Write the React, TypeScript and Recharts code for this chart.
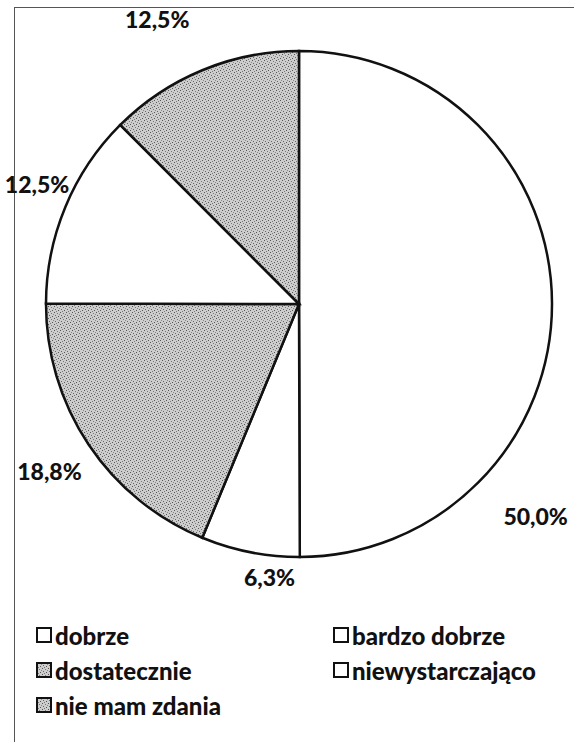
import React from "react"
import { PieChart, Pie, Cell } from "recharts"

const categories = ["dobrze", "bardzo dobrze", "dostatecznie", "niewystarczająco", "nie mam zdania"]
const values = [50.0, 6.3, 18.8, 12.5, 12.5]
const labels = ["50,0%", "6,3%", "18,8%", "12,5%", "12,5%"]
const shaded = [false, false, true, false, true]

const data = categories.map((name, i) => ({ name, value: values[i], label: labels[i], shaded: shaded[i] }))

const FONT = "Lato, 'Open Sans', sans-serif"
const RAD = Math.PI / 180

// label angle nudges / radii (Excel "best fit" placement)
const labelNudge: Record<number, { da: number; r: number }> = {
  0: { da: -42, r: 318 },
  1: { da: 5, r: 275 },
  2: { da: 0, r: 300 },
  3: { da: -2, r: 288 },
  4: { da: 4, r: 318 },
}

function renderLabel(props: any) {
  const { cx, cy, midAngle, index } = props
  const n = labelNudge[index] || { da: 0, r: 300 }
  const a = (midAngle + n.da) * RAD
  const x = cx + n.r * Math.cos(a)
  const y = cy - n.r * Math.sin(a)
  return (
    <text
      x={x}
      y={y}
      textAnchor="middle"
      dominantBaseline="central"
      fontFamily={FONT}
      fontWeight={900}
      fontSize={23}
      fill="#111"
    >
      {data[index].label}
    </text>
  )
}

function LegendBlock() {
  return (
    <div
      style={{
        position: "absolute",
        left: 36,
        top: 621,
        display: "grid",
        gridTemplateColumns: "297px 240px",
        rowGap: 7,
        fontFamily: FONT,
        fontWeight: 900,
        fontSize: 24,
        color: "#111",
      }}
    >
      {data.map((d) => (
        <div key={d.name} style={{ display: "flex", alignItems: "center", height: 28 }}>
          <svg width={17} height={17} style={{ marginRight: 2 }}>
            <rect
              x={1}
              y={1}
              width={14}
              height={14}
              fill={d.shaded ? "url(#stipple)" : "#fff"}
              stroke="#111"
              strokeWidth={2}
            />
          </svg>
          <span>{d.name}</span>
        </div>
      ))}
    </div>
  )
}

export default function App() {
  return (
    <div style={{ position: "absolute", left: 0, top: 0, width: 574, height: 742, overflow: "hidden", background: "#fff" }}>
      <div
        style={{
          position: "absolute",
          left: 14,
          top: 7,
          width: 580,
          height: 760,
          border: "1px solid #555",
          boxSizing: "border-box",
        }}
      />
      <div style={{ position: "absolute", left: 0, top: 0 }}>
        <PieChart width={574} height={742} margin={{ top: 0, right: 0, bottom: 0, left: 0 }}>
          <defs>
            <pattern id="stipple" width="6" height="6" patternUnits="userSpaceOnUse">
              <rect width="6" height="6" fill="#cdcdcd" />
              <rect x="0" y="0" width="1" height="1" fill="#555" />
              <rect x="3" y="1" width="1" height="1" fill="#777" />
              <rect x="1" y="3" width="1" height="1" fill="#666" />
              <rect x="4" y="4" width="1" height="1" fill="#555" />
              <rect x="5" y="2" width="1" height="1" fill="#888" />
              <rect x="2" y="5" width="1" height="1" fill="#777" />
            </pattern>
          </defs>
          <Pie
            data={data}
            dataKey="value"
            nameKey="name"
            cx={299}
            cy={304}
            outerRadius={253}
            startAngle={90}
            endAngle={-270}
            stroke="#111"
            strokeWidth={2.5}
            label={renderLabel}
            labelLine={false}
            isAnimationActive={false}
          >
            {data.map((d) => (
              <Cell key={d.name} fill={d.shaded ? "url(#stipple)" : "#fff"} />
            ))}
          </Pie>
        </PieChart>
      </div>
      <LegendBlock />
    </div>
  )
}
